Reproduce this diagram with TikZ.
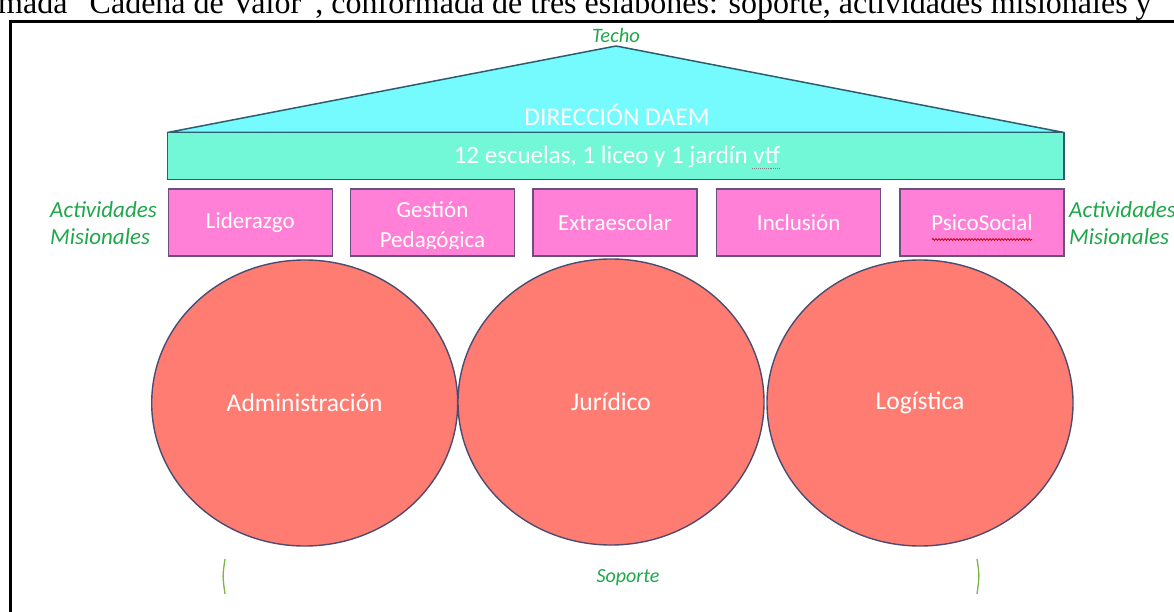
\documentclass[tikz,border=0pt]{standalone}
\usepackage{fontspec}
\setmainfont{Carlito}
\newfontfamily\tmsfont{Liberation Serif}
\usetikzlibrary{shapes.geometric,decorations.pathmorphing,calc}
\definecolor{roofc}{HTML}{75FBFD}
\definecolor{bandc}{HTML}{72F8D6}
\definecolor{edgec}{HTML}{2E5E6E}
\definecolor{pinkc}{HTML}{FF80D6}
\definecolor{pinkedge}{HTML}{6A5080}
\definecolor{circc}{HTML}{FF7C72}
\definecolor{circedge}{HTML}{4C4C70}
\definecolor{labgreen}{HTML}{1EA84A}
\definecolor{bracec}{HTML}{7AB648}
\begin{document}
\begin{tikzpicture}[x=1pt,y=-1pt,
 activity/.style={draw=pinkedge, line width=1.4, fill=pinkc, minimum width=164, minimum height=67, inner sep=0, text=white, font=\fontsize{23}{27}\selectfont},
 pillar/.style={ellipse, draw=circedge, line width=1.4, fill=circc, minimum width=306, minimum height=286, inner sep=0, text=white, font=\fontsize{25.5}{29}\selectfont},
 side/.style={text=labgreen, font=\fontsize{23}{27}\selectfont\itshape, align=left, inner sep=0},
 whitetext/.style={text=white, inner sep=0},
]
\useasboundingbox (0,0) rectangle (1174,612);
\clip (0,0) rectangle (1174,612);
\fill[white] (0,0) rectangle (1174,612);
% cut caption line of the surrounding document
\node[anchor=base west, inner sep=0, font=\tmsfont\fontsize{32}{36}\selectfont] (cap) at (-2,14) {mada “Cadena de Valor”, conformada de tres eslabones: soporte, actividades misionales y};
% page frame
\coordinate (fbl) at (10.5,650);
\coordinate (ftl) at (10.5,21.5);
\coordinate (ftr) at (1200,21.5);
\draw[line width=3] (fbl) -- (ftl) -- (ftr);
% roof
\node[text=labgreen, font=\fontsize{20.5}{24}\selectfont\itshape, inner sep=0] (techo) at (616,35) {Techo};
\coordinate (apex) at (616,46);
\coordinate (bl) at (167.5,132.5);
\coordinate (br) at (1064,132.5);
\draw[draw=edgec, line width=1.5, fill=roofc, line join=round] (bl) -- (apex) -- (br) -- cycle;
\node[whitetext, font=\fontsize{25.5}{29}\selectfont] (dir) at (617,115) {DIRECCIÓN DAEM};
% band
\node[draw=edgec, line width=1.5, fill=bandc, minimum width=896.5, minimum height=47, inner sep=0] (band) at (615.75,156) {};
\node[whitetext, font=\fontsize{25}{29}\selectfont] (bandtxt) at (617,157) {12 escuelas, 1 liceo y 1 jardín vtf};
\draw[densely dotted, gray, line width=0.9] ($(bandtxt.base east)+(-28,5)$) -- ($(bandtxt.base east)+(0,5)$);
% activities
\node[activity] (lid) at (250.3,222.5) {Liderazgo};
\node[activity] (gest) at (432.5,222.5) {};
\begin{scope}
\clip (351,190) rectangle (514,248);
\node[whitetext, font=\fontsize{23}{30}\selectfont, align=center] (gesttxt) at (432.5,226.7) {Gestión\\Pedagógica};
\end{scope}
\node[activity] (extra) at (615,222.5) {Extraescolar};
\node[activity] (incl) at (798.7,222.5) {Inclusión};
\node[activity] (psico) at (982,222.5) {PsicoSocial};
\draw[red!80!black, line width=0.8, decorate, decoration={snake, amplitude=0.9, segment length=3}] ($(psico.center)+(-50,17)$) -- ($(psico.center)+(50,17)$);
\node[side, anchor=west] (misL) at (50,223.5) {Actividades\\Misionales};
\node[side, anchor=west] (misR) at (1069,223.5) {Actividades\\Misionales};
% pillars
\node[pillar] (adm) at (304.7,403) {Administración};
\node[pillar] (jur) at (611,402) {Jurídico};
\node[pillar] (log) at (920,403) {Logística};
% support
\node[text=labgreen, font=\fontsize{20}{24}\selectfont\itshape, inner sep=0] (sop) at (628,578) {Soporte};
\coordinate (lb1) at (225,559);
\coordinate (lb2) at (225,594);
\coordinate (rb1) at (977,559);
\coordinate (rb2) at (977,594);
\draw[bracec, line width=1.3] (lb1) .. controls (222.5,576) .. (lb2);
\draw[bracec, line width=1.3] (rb1) .. controls (979.5,576) .. (rb2);
\end{tikzpicture}
\end{document}
